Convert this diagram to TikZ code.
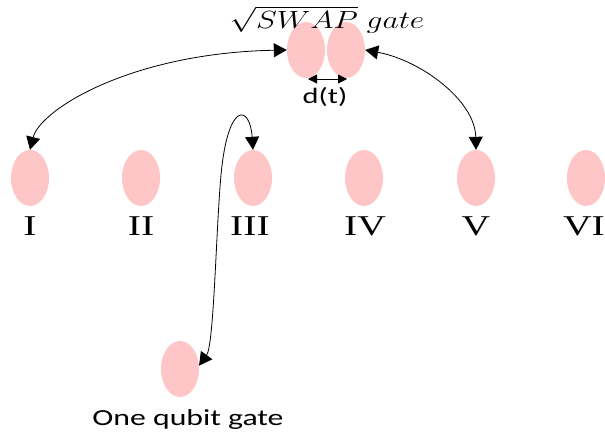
\documentclass[tikz,border=0pt]{standalone}
\usepackage{fontspec}
\newfontfamily\numfont{Liberation Serif}
\newfontfamily\labfont{Carlito}
\usetikzlibrary{shapes.geometric,arrows.meta}
\definecolor{qpink}{RGB}{255,198,200}
\begin{document}
\begin{tikzpicture}[x=1pt,y=-1pt,
  qubit/.style={ellipse,fill=qpink,draw=none,minimum width=38pt,minimum height=56pt,inner sep=0pt},
  roman/.style={font=\numfont\fontsize{28.7}{30}\selectfont,inner sep=0pt,xscale=1.38,transform shape},
  lab/.style={font=\labfont\fontsize{23}{25}\selectfont,inner sep=0pt,xscale=1.38,transform shape},
  conn/.style={line width=0.8pt,{Triangle[length=13pt,width=14pt]}-{Triangle[length=13pt,width=14pt]}},
  small/.style={line width=0.8pt,{Triangle[length=9pt,width=9pt]}-{Triangle[length=9pt,width=9pt]}}]
\useasboundingbox (0,0) rectangle (605,436);
% top gate
\node[qubit] (L) at (306,50) {};
\node[qubit] (R) at (346,50) {};
\node[anchor=north,inner sep=0pt,font=\fontsize{23}{25}\selectfont,xscale=1.27,transform shape] (sw) at (327,6) {$\sqrt{SWAP}\ gate$};
\coordinate (dl) at (308,79);
\coordinate (dr) at (347,79);
\draw[small] (dl) -- (dr);
\node[lab,font=\labfont\fontsize{22}{24}\selectfont] (dt) at (325,97) {d(t)};
% row of qubits
\node[qubit] (n1) at (30,178) {};
\node[qubit] (n2) at (141,178) {};
\node[qubit] (n3) at (253,178) {};
\node[qubit] (n4) at (364,178) {};
\node[qubit] (n5) at (476,178) {};
\node[qubit] (n6) at (586,178) {};
\node[roman] (t1) at (30,226) {I};
\node[roman] (t2) at (141,226) {II};
\node[roman] (t3) at (250,226) {III};
\node[roman] (t4) at (365,226) {IV};
\node[roman] (t5) at (476,226) {V};
\node[roman] (t6) at (584,226) {VI};
% one qubit gate
\node[qubit] (q) at (180,369) {};
\node[lab] (qt) at (188,419) {One qubit gate};
% connectors
\draw[conn] (n1.north) .. controls (40,110) and (130,53) .. (L.west);
\draw[conn] (R.east) .. controls (420,60) and (475,100) .. (n5.north);
\coordinate (mid) at (221,175);
\draw[conn] (n3.north) .. controls (250,105) and (228,100) .. (mid)
   .. controls (216,230) and (214,345) .. (q.10);
\end{tikzpicture}
\end{document}
